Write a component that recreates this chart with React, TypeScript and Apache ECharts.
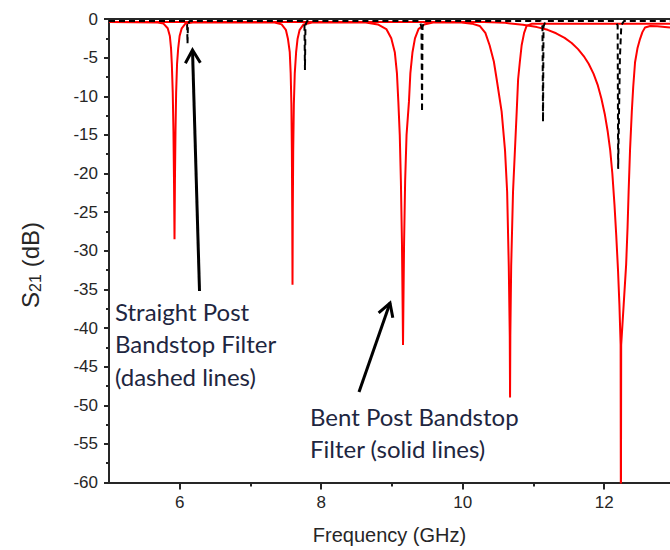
import React, { useEffect, useRef } from 'react';
import * as echarts from 'echarts';

// ---- axis ranges / tick labels ----
const xMin = 5;
const xMax = 12.93;
const xMajorTicks = [6, 8, 10, 12];
const xMinorTicks = [7, 9, 11];
const yMin = -60;
const yMax = 0;
const yStep = 5;

// ---- Bent post bandstop filter (solid red), [GHz, dB] ----
const bentStart = [[5.0, -0.4]];
const bentDip1 = [[5.69, -0.45], [5.77, -0.6], [5.83, -1.2], [5.86, -2.2], [5.877, -3.8], [5.888, -5.8], [5.901, -9.5], [5.911, -14.5], [5.919, -21], [5.926, -28.5], [5.932, -21], [5.94, -14.5], [5.949, -9.5], [5.962, -5.8], [5.978, -3.8], [5.998, -2.2], [6.028, -1.2], [6.08, -0.6], [6.18, -0.45]];
const bentDip2 = [[7.34, -0.45], [7.44, -0.7], [7.5, -1.4], [7.53, -2.6], [7.555, -4.3], [7.568, -7], [7.578, -11], [7.585, -17], [7.59, -25], [7.594, -34.4], [7.598, -25], [7.604, -17], [7.613, -11], [7.626, -7], [7.645, -4.3], [7.665, -2.6], [7.695, -1.4], [7.75, -0.7], [7.87, -0.45]];
const bentDip3 = [[8.63, -0.45], [8.8, -0.7], [8.92, -1.3], [8.99, -2.5], [9.04, -4.3], [9.07, -7], [9.09, -10.7], [9.11, -15], [9.126, -21], [9.141, -29], [9.151, -37.5], [9.156, -42.2], [9.161, -37.5], [9.171, -29], [9.186, -21], [9.206, -15], [9.24, -10.7], [9.26, -7], [9.29, -4.3], [9.325, -2.5], [9.375, -1.3], [9.455, -0.7], [9.58, -0.45]];
const bentDip4 = [[9.98, -0.45], [10.13, -0.6], [10.24, -0.9], [10.32, -1.8], [10.38, -3.4], [10.44, -5.5], [10.48, -7.8], [10.55, -12], [10.598, -17], [10.628, -22.4], [10.651, -32], [10.665, -41], [10.669, -49], [10.673, -41], [10.685, -32], [10.711, -22.4], [10.738, -17], [10.763, -12], [10.783, -7.8], [10.808, -5.5], [10.833, -3.4], [10.868, -1.8], [10.903, -0.9], [10.98, -0.6]];
const bentEnd = [[12.93, -0.6]];
const bentDip5 = [[5.0, -0.4], [10.3, -0.4], [10.6, -0.5], [10.85, -0.75], [11.05, -1.05], [11.2, -1.4], [11.32, -1.85], [11.44, -2.45], [11.54, -3.1], [11.63, -3.9], [11.71, -4.8], [11.78, -5.8], [11.85, -7.1], [11.91, -8.6], [11.96, -10.3], [12.01, -12.4], [12.05, -14.6], [12.085, -17], [12.115, -20], [12.145, -24], [12.17, -28], [12.195, -32.5], [12.215, -37], [12.232, -42.2], [12.236, -66], [12.24, -42.2], [12.275, -37], [12.31, -31.8], [12.33, -27], [12.345, -22.4], [12.365, -17], [12.39, -12], [12.41, -8.8], [12.436, -5.6], [12.47, -3.8], [12.506, -2.6], [12.54, -1.7], [12.577, -1.1], [12.65, -0.9], [12.75, -0.95], [12.93, -1.1]];

// ---- Straight post bandstop filter (dashed black), [GHz, dB] ----
const straightStart = [[5.0, -0.25]];
const straightDip1 = [[6.08, -0.25], [6.104, -0.7], [6.11, -3.2], [6.116, -0.7], [6.14, -0.25]];
const straightDip2 = [[7.74, -0.25], [7.763, -0.8], [7.77, -6.6], [7.777, -0.8], [7.8, -0.25]];
const straightDip3 = [[9.39, -0.25], [9.417, -1], [9.425, -12], [9.432, -1], [9.46, -0.25]];
const straightDip4 = [[11.1, -0.25], [11.127, -1], [11.135, -13.3], [11.142, -1], [11.17, -0.25]];
const straightDip5 = [[12.14, -0.25], [12.19, -0.8], [12.197, -19.4], [12.222, -5], [12.242, -0.8], [12.28, -0.25]];
const straightEnd = [[12.93, -0.25]];

// ---- annotation texts ----
const note1Lines = ['Straight Post', 'Bandstop Filter', '(dashed lines)'];
const note2Lines = ['Bent Post Bandstop', 'Filter (solid lines)'];

const AXIS_COLOR = '#262626';
const LABEL_FONT = '"Liberation Sans", Arial, sans-serif';
const NOTE_FONT = 'Lato, "Open Sans", sans-serif';
const NOTE_COLOR = '#1e2640';

function arrow(tail: number[], tip: number[]) {
  const dx = tip[0] - tail[0];
  const dy = tip[1] - tail[1];
  const len = Math.hypot(dx, dy);
  const bx = -dx / len;
  const by = -dy / len;
  const a = Math.PI / 6;
  const L = 15;
  const arm = (s: number) => [
    tip[0] + L * (bx * Math.cos(s * a) - by * Math.sin(s * a)),
    tip[1] + L * (bx * Math.sin(s * a) + by * Math.cos(s * a)),
  ];
  const style = { stroke: '#000', lineWidth: 3, fill: null, lineJoin: 'miter', lineCap: 'butt' };
  return [
    { type: 'polyline', shape: { points: [tail, tip] }, style },
    { type: 'polyline', shape: { points: [arm(1), tip, arm(-1)] }, style },
  ];
}

export default function App() {
  const ref = useRef<HTMLDivElement>(null);
  useEffect(() => {
    if (!ref.current) return;
    const chart = echarts.init(ref.current, null, { renderer: 'svg' });
    const bentData = [...bentStart, ...bentDip1, ...bentDip2, ...bentDip3, ...bentDip4, ...bentEnd];
    const straightData = [...straightStart, ...straightDip1, ...straightDip2, ...straightDip3, ...straightDip4, ...straightDip5, ...straightEnd];

    const axisLine = { show: true, onZero: false, lineStyle: { color: AXIS_COLOR, width: 2 } };
    const noteText = (lines: string[], x: number, y0: number, dy: number) =>
      lines.map((t, i) => ({
        type: 'text',
        x,
        y: y0 + i * dy,
        style: { text: t, fontSize: 24, fontFamily: NOTE_FONT, fill: NOTE_COLOR, align: 'left', verticalAlign: 'middle' },
      }));

    chart.setOption({
      animation: false,
      backgroundColor: '#fff',
      grid: { left: 109, right: 0, top: 19, bottom: 67.5, containLabel: false },
      xAxis: [
        {
          type: 'value', min: xMin, max: xMax, position: 'bottom',
          axisLine,
          axisTick: { show: true, customValues: xMajorTicks, length: 7, lineStyle: { color: AXIS_COLOR, width: 2 } },
          axisLabel: { customValues: xMajorTicks, fontSize: 17, color: AXIS_COLOR, fontFamily: LABEL_FONT, margin: 11 },
          splitLine: { show: false },
          name: 'Frequency (GHz)', nameLocation: 'middle', nameGap: 42,
          nameTextStyle: { fontSize: 20, color: AXIS_COLOR, fontFamily: LABEL_FONT },
        },
        {
          type: 'value', min: xMin, max: xMax, position: 'bottom',
          axisLine: { show: false, onZero: false },
          axisTick: { show: true, customValues: xMinorTicks, length: 4, lineStyle: { color: AXIS_COLOR, width: 2 } },
          axisLabel: { show: false },
          splitLine: { show: false },
        },
        {
          type: 'value', min: xMin, max: xMax, position: 'top',
          axisLine,
          axisTick: { show: false },
          axisLabel: { show: false },
          splitLine: { show: false },
        },
      ],
      yAxis: {
        type: 'value', min: yMin, max: yMax, interval: yStep,
        axisLine,
        axisTick: { show: true, length: 5, lineStyle: { color: AXIS_COLOR, width: 2 } },
        minorTick: { show: true, splitNumber: 2, length: 3, lineStyle: { color: AXIS_COLOR, width: 2 } },
        axisLabel: { fontSize: 17, color: AXIS_COLOR, fontFamily: LABEL_FONT, margin: 11 },
        splitLine: { show: false },
      },
      series: [
        { type: 'line', name: 'Bent', data: bentData, showSymbol: false, clip: true, lineStyle: { color: '#ff0000', width: 2 }, itemStyle: { color: '#ff0000' } },
        { type: 'line', name: 'Bent wide', data: bentDip5, showSymbol: false, clip: true, lineStyle: { color: '#ff0000', width: 2 }, itemStyle: { color: '#ff0000' } },
        { type: 'line', name: 'Straight', data: straightData, showSymbol: false, clip: true, lineStyle: { color: '#000', width: 2, type: [6, 4] }, itemStyle: { color: '#000' } },
      ],
      graphic: {
        elements: [
          {
            type: 'group', x: 30, y: 308, rotation: Math.PI / 2,
            children: [
              { type: 'text', x: 0, y: 0, style: { text: 'S', fontSize: 24, fontFamily: LABEL_FONT, fill: AXIS_COLOR, align: 'left', verticalAlign: 'middle' } },
              { type: 'text', x: 16, y: 5, style: { text: '21', fontSize: 16, fontFamily: LABEL_FONT, fill: AXIS_COLOR, align: 'left', verticalAlign: 'middle' } },
              { type: 'text', x: 34, y: 0, style: { text: ' (dB)', fontSize: 24, fontFamily: LABEL_FONT, fill: AXIS_COLOR, align: 'left', verticalAlign: 'middle' } },
            ],
          },
          ...noteText(note1Lines, 115, 311, 32.5),
          ...noteText(note2Lines, 310, 416, 32.5),
          ...arrow([199.5, 291], [192.5, 50]),
          ...arrow([359, 392], [390, 303]),
        ],
      },
    });
    return () => chart.dispose();
  }, []);
  return <div ref={ref} style={{ position: 'fixed', left: 0, top: 0, width: 670, height: 550 }} />;
}
